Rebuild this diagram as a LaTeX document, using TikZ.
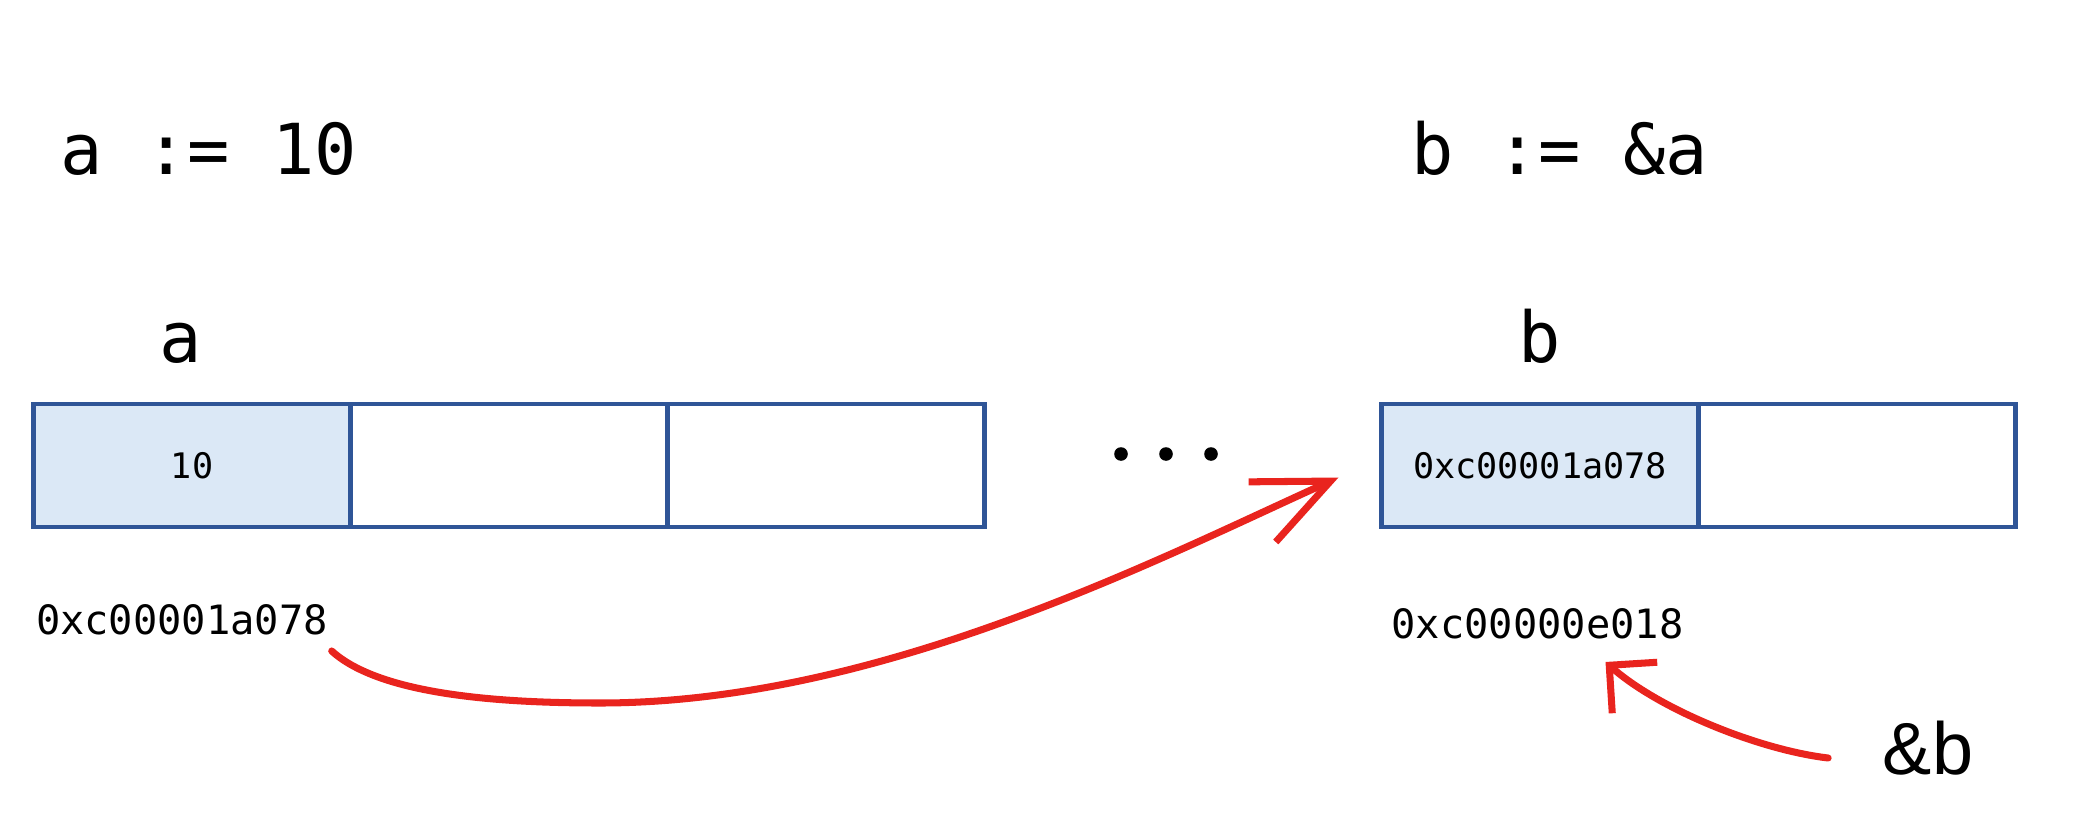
\documentclass[tikz,border=0pt]{standalone}
\usepackage{fontspec}
\setmonofont{DejaVu Sans Mono}
\setsansfont{Liberation Sans}
\usetikzlibrary{arrows.meta,positioning}
\definecolor{cellblue}{RGB}{219,232,246}
\definecolor{celledge}{RGB}{47,85,151}
\definecolor{penred}{RGB}{233,36,30}

\begin{document}
\begin{tikzpicture}[
  cell/.style={draw=celledge,line width=1.2pt,minimum width=3.17cm,minimum height=1.23cm,
    inner sep=0pt,outer sep=0pt,font=\ttfamily\fontsize{10}{12}\selectfont},
  big/.style={font=\ttfamily\fontsize{20}{24}\selectfont,inner sep=0pt},
  addr/.style={font=\ttfamily\fontsize{11.5}{14}\selectfont,inner sep=0pt},
  pen/.style={penred,line width=2pt,line cap=round}]
  \useasboundingbox (0,0) rectangle (20.92,-8.17);
  % statements
  \node[big,anchor=base west] (stA) at (0.60,-1.74) {a := 10};
  \node[big,anchor=base west] (stB) at (14.11,-1.74) {b := \&a};
  % memory cells of a
  \node[cell,fill=cellblue] (a1) at (1.92,-4.655) {10};
  \node[cell,right=0pt of a1] (a2) {};
  \node[cell,right=0pt of a2] (a3) {};
  \node[big,anchor=base] (la) at (1.81,-3.62) {a};
  \node[addr] (addrA) at (1.82,-6.20) {0xc00001a078};
  % gap in memory
  \foreach \x in {11.21,11.66,12.11}
    \fill (\x,-4.54) circle (0.068);
  % memory cells of b
  \node[cell,fill=cellblue] (b1) at (15.40,-4.655) {0xc00001a078};
  \node[cell,right=0pt of b1] (b2) {};
  \node[big,anchor=base] (lb) at (b1.north |- 0,-3.62) {b};
  \node[addr] (addrB) at (15.375,-6.24) {0xc00000e018};
  \node[font=\sffamily\fontsize{21}{25}\selectfont,inner sep=0pt] (refB) at (19.28,-7.48) {\&b};
  % hand drawn arrows
  \draw[pen,-{Straight Barb[length=7.5mm,width=6.6mm]}] ([shift={(0.03,-0.15)}]addrA.south east)
    .. controls (3.8,-6.95) and (5.0,-7.03) .. (6.0,-7.03)
    .. controls (8.8,-7.03) and (11.6,-5.58) .. ([shift={(-0.43,-0.12)}]b1.west);
  \draw[pen,-{Straight Barb[length=3.4mm,width=6.8mm]}] ([shift={(-0.54,-0.10)}]refB.west)
    .. controls (17.6,-7.5) and (16.6,-7.1) .. ([shift={(0.68,-0.22)}]addrB.south);
\end{tikzpicture}
\end{document}
